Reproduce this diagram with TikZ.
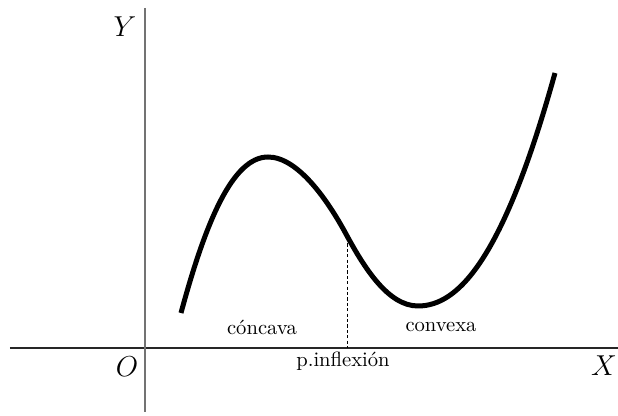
\documentclass[tikz,border=0pt]{standalone}
\usepackage{fontspec}
\begin{document}
\begin{tikzpicture}[x=0.5pt,y=-0.5pt,
  axisx/.style={draw=black!85,line width=0.8pt},
  axisy/.style={draw=black!55,line width=1pt},
  curvestyle/.style={draw=black,line width=2.5pt,line cap=butt},
  guide/.style={draw=black,line width=0.5pt,dash pattern=on 1.6pt off 1.1pt},
  axlabel/.style={inner sep=0pt,font=\fontsize{13.5pt}{16pt}\selectfont},
  txt/.style={inner sep=0pt,font=\fontsize{10.3pt}{12pt}\selectfont}]
\useasboundingbox (0,0) rectangle (618,416);
% axes
\coordinate (xl) at (10,348);
\coordinate (xr) at (618,348);
\coordinate (yt) at (145.5,8);
\coordinate (yb) at (145.5,412);
\draw[axisx] (xl) -- (xr);
\draw[axisy] (yt) -- (yb);
% curve
\coordinate (c0) at (181,313);
\coordinate (cmax) at (268,157);
\coordinate (cinf) at (346,234);
\coordinate (cmin) at (418,306);
\coordinate (cend) at (555,73);
\draw[curvestyle] (c0) .. controls (206,220.5) and (233,157) .. (cmax)
  .. controls (298,157) and (328,200.7) .. (cinf)
  .. controls (364,267.3) and (388,306) .. (cmin)
  .. controls (458,306) and (503,260.2) .. (cend);
% inflection guide
\coordinate (pi) at (348,238);
\coordinate (pb) at (348,348);
\draw[guide] (pi) -- (pb);
% labels
\node[axlabel] (Y) at (125,27) {$Y$};
\node[axlabel] (O) at (127,367) {$O$};
\node[axlabel] (X) at (604,366) {$X$};
\node[txt] (conc) at (262,327) {cóncava};
\node[txt] (conv) at (441,327) {convexa};
\node[txt] (pinf) at (343,361) {p.inflexión};
\end{tikzpicture}
\end{document}
